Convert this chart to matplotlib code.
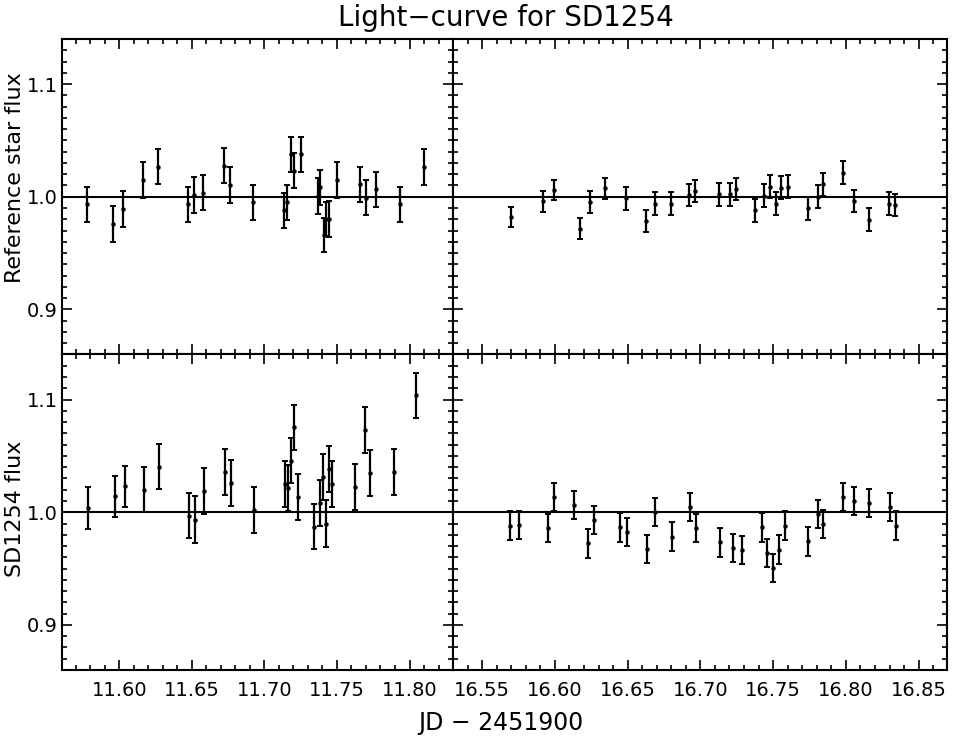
"""Light-curve for SD1254: reference star and target flux, two nights."""

import matplotlib
matplotlib.use("Agg")
import matplotlib.pyplot as plt
from matplotlib.ticker import MultipleLocator, FormatStrFormatter

plt.rcParams["font.family"] = ["DejaVu Sans"]

# night 1 (JD - 2451900 ~ 11.6), reference star
ref1_t = [11.578, 11.5954, 11.6028, 11.6161, 11.6269, 11.6476, 11.6515, 11.658,
          11.6722, 11.6763, 11.6924, 11.7138, 11.7156, 11.7182, 11.7202, 11.725,
          11.7366, 11.7384, 11.7409, 11.7427, 11.7446, 11.7499, 11.7662, 11.7699,
          11.777, 11.7936, 11.8097]
ref1_f = [0.9935, 0.9758, 0.989, 1.0148, 1.0266, 0.9932, 1.0015, 1.0035,
          1.0275, 1.0103, 0.995, 0.988, 0.995, 1.0378, 1.023, 1.0375,
          1.0009, 1.0083, 0.966, 0.9805, 0.9805, 1.0148, 1.0109, 0.999,
          1.0065, 0.9932, 1.026]
ref1_e = [0.0155, 0.0157, 0.0158, 0.0157, 0.0157, 0.0155, 0.0158, 0.0157,
          0.0155, 0.0157, 0.0155, 0.0157, 0.0155, 0.0155, 0.0155, 0.0155,
          0.0158, 0.0155, 0.0152, 0.0152, 0.0158, 0.0157, 0.0158, 0.0155,
          0.0158, 0.0158, 0.016]

# night 2 (~16.7), reference star
ref2_t = [16.57, 16.592, 16.5993, 16.6172, 16.6241, 16.6344, 16.6486, 16.6626,
          16.6686, 16.6798, 16.6922, 16.6961, 16.7131, 16.7202, 16.7243, 16.7376,
          16.7438, 16.7479, 16.7518, 16.7557, 16.7599, 16.7741, 16.7805, 16.7846,
          16.7979, 16.8057, 16.8156, 16.8298, 16.8339]
ref2_f = [0.982, 0.996, 1.006, 0.9718, 0.9955, 1.0074, 0.9985, 0.9786,
          0.994, 0.994, 1.0015, 1.005, 1.002, 1.002, 1.0068, 0.988,
          1.001, 1.009, 0.994, 1.008, 1.009, 0.9896, 1.0, 1.011,
          1.0214, 0.9964, 0.9798, 0.994, 0.9926]
ref2_e = [0.0092, 0.0092, 0.009, 0.009, 0.0098, 0.0096, 0.01, 0.0096,
          0.0098, 0.01, 0.01, 0.01, 0.01, 0.01, 0.01, 0.0104,
          0.01, 0.01, 0.01, 0.01, 0.01, 0.0098, 0.01, 0.01,
          0.01, 0.0096, 0.01, 0.01, 0.01]

# night 1, SD1254
sd1_t = [11.5786, 11.597, 11.6041, 11.6168, 11.6271, 11.6483, 11.6522, 11.6586,
         11.6726, 11.6768, 11.6929, 11.7143, 11.7161, 11.7184, 11.7202, 11.723,
         11.7343, 11.7384, 11.7405, 11.7425, 11.7446, 11.7469, 11.7621, 11.769,
         11.7731, 11.7892, 11.8046]
sd1_f = [1.0038, 1.014, 1.023, 1.02, 1.0405, 0.997, 0.9935, 1.0186,
         1.036, 1.0257, 1.002, 1.0249, 1.0216, 1.0458, 1.0753, 1.0133,
         0.9873, 1.008, 1.0316, 0.990, 1.0386, 1.0251, 1.0227, 1.073,
         1.0346, 1.0355, 1.104]
sd1_e = [0.0184, 0.0182, 0.0182, 0.02, 0.0203, 0.0203, 0.0207, 0.0203,
         0.0203, 0.0203, 0.0207, 0.0203, 0.0207, 0.0198, 0.0203, 0.0203,
         0.0203, 0.0203, 0.0203, 0.0205, 0.0203, 0.0203, 0.0203, 0.0203,
         0.0203, 0.0203, 0.02]

# night 2, SD1254
sd2_t = [16.569, 16.5752, 16.5956, 16.5995, 16.6128, 16.6229, 16.6268, 16.6445,
         16.6495, 16.6631, 16.669, 16.6803, 16.6927, 16.6968, 16.7138, 16.7225,
         16.7287, 16.7422, 16.7461, 16.7498, 16.7541, 16.758, 16.7739, 16.7807,
         16.7846, 16.7982, 16.8057, 16.8161, 16.83, 16.8344]
sd2_f = [0.9881, 0.9887, 0.9858, 1.0134, 1.0065, 0.9724, 0.9932, 0.9866,
         0.9822, 0.9674, 1.0, 0.9783, 1.0045, 0.986, 0.9733, 0.9682,
         0.9665, 0.9866, 0.9638, 0.9504, 0.9668, 0.9881, 0.9742, 0.9985,
         0.9896, 1.0134, 1.0098, 1.008, 1.0045, 0.9881]
sd2_e = [0.0126] * 30

XLIM = [(11.5605, 11.830), (16.530, 16.8695)]
YLIM = (0.86, 1.14)
YLABELS = ["Reference star flux", "SD1254 flux"]
YLABEL_Y = [0.56, 0.51]


def style_axis(ax, show_x, show_y):
    ax.set_ylim(*YLIM)
    ax.yaxis.set_major_locator(MultipleLocator(0.1))
    ax.yaxis.set_minor_locator(MultipleLocator(0.01))
    ax.xaxis.set_major_locator(MultipleLocator(0.05))
    ax.xaxis.set_minor_locator(MultipleLocator(0.01))
    ax.xaxis.set_major_formatter(FormatStrFormatter("%.2f"))
    ax.yaxis.set_major_formatter(FormatStrFormatter("%.1f"))
    ax.tick_params(which="both", direction="in", top=True, right=True,
                   labelsize=14, width=1.2)
    ax.tick_params(which="major", length=7)
    ax.tick_params(which="minor", length=3.5)
    ax.tick_params(labelbottom=show_x, labelleft=show_y)
    ax.tick_params(axis="y", pad=3)
    ax.tick_params(axis="x", pad=8)
    for sp in ax.spines.values():
        sp.set_linewidth(1.5)


def draw_panel(ax, t, f, e):
    ax.axhline(1.0, color="black", lw=1.5)
    ax.errorbar(t, f, yerr=e, fmt="o", ms=2.2, color="black", ecolor="black",
                elinewidth=1.6, capsize=2.2, capthick=1.4)


fig, axes = plt.subplots(2, 2, figsize=(9.56, 7.36), dpi=100,
                         gridspec_kw={"width_ratios": [391, 494]})
fig.subplots_adjust(left=0.0649, right=0.9906, top=0.947, bottom=0.0897,
                    hspace=0, wspace=0)

panels = [[(ref1_t, ref1_f, ref1_e), (ref2_t, ref2_f, ref2_e)],
          [(sd1_t, sd1_f, sd1_e), (sd2_t, sd2_f, sd2_e)]]

for i in range(2):
    for j in range(2):
        ax = axes[i, j]
        draw_panel(ax, *panels[i][j])
        ax.set_xlim(*XLIM[j])
        style_axis(ax, show_x=(i == 1), show_y=(j == 0))
    axes[i, 0].set_ylabel(YLABELS[i], fontsize=16)
    axes[i, 0].yaxis.set_label_coords(-0.095, YLABEL_Y[i])

fig.suptitle("Light\u2212curve for SD1254", fontsize=20, x=0.529, y=0.995)
fig.text(0.524, 0.008, "JD \u2212 2451900", ha="center", fontsize=17)

fig.savefig("out.png", dpi=100)
